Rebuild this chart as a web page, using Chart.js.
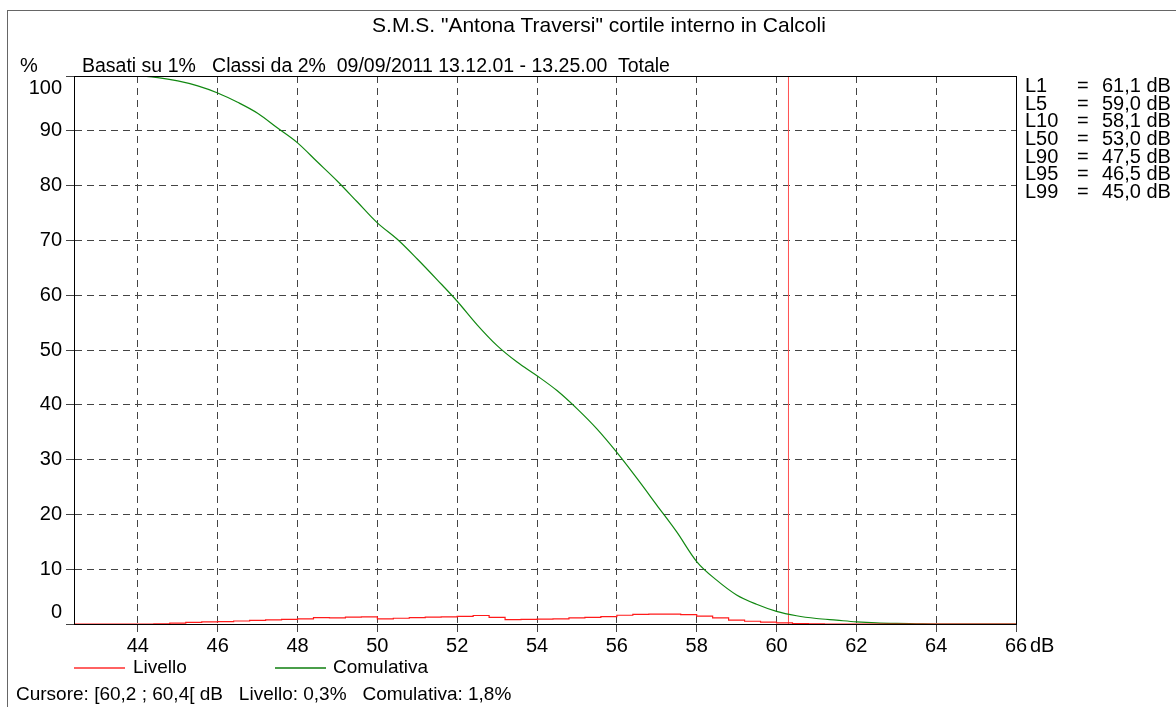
<!DOCTYPE html>
<html>
<head>
<meta charset="utf-8">
<script src="https://cdn.jsdelivr.net/npm/chart.js@4"></script>
<style>
body{margin:0;background:#fff;font-family:"Liberation Sans",Arial,sans-serif;color:#000}
#wrap{position:relative;width:1176px;height:707px;overflow:hidden}
#c{position:absolute;left:0;top:0}
.t{position:absolute;font-size:19px;line-height:20px;white-space:pre}
#frame{position:absolute;left:7px;top:10px;width:1300px;height:900px;border-left:1px solid #666;border-top:1px solid #666}
.stats{position:absolute;left:1025px;top:77px;font-size:20px;line-height:17.7px}
.stats div{position:relative;height:17.7px;white-space:pre}
.stats span{position:absolute}
.leg{position:absolute;height:0;border-top:2px solid}
</style>
</head>
<body>
<div id="wrap">
<div id="frame"></div>
<canvas id="c" width="1176" height="707"></canvas>
<div class="t" style="left:0;width:1198px;text-align:center;top:14px;font-size:21px;line-height:22px">S.M.S. "Antona Traversi" cortile interno in Calcoli</div>
<div class="t" style="left:20px;top:55px;font-size:20px">%</div>
<div class="t" style="left:82px;top:55px;font-size:19.5px">Basati su 1%   Classi da 2%  09/09/2011 13.12.01 - 13.25.00  Totale</div>
<div class="stats" id="stats"></div>
<div class="t" style="left:1030px;top:635px;font-size:20px">dB</div>
<div class="leg" style="left:74px;top:667px;width:51px;border-color:#ff6262"></div>
<div class="t" style="left:133px;top:657px">Livello</div>
<div class="leg" style="left:275px;top:667px;width:51px;border-color:#4a9e4a"></div>
<div class="t" style="left:333px;top:657px">Comulativa</div>
<div class="t" style="left:16px;top:684px">Cursore: [60,2 ; 60,4[ dB   Livello: 0,3%   Comulativa: 1,8%</div>
</div>
<script>
// values
const statNames=['L1','L5','L10','L50','L90','L95','L99']
const statValues=['61,1 dB','59,0 dB','58,1 dB','53,0 dB','47,5 dB','46,5 dB','45,0 dB']

const cumDb=[42.4,43,43.5,44,44.5,45,45.5,46,46.5,47,47.5,48,48.5,49,49.5,50,50.5,51,51.5,52,52.5,53,53.5,54,54.5,55,55.5,56,56.5,57,57.5,58,58.5,59,59.5,60,60.5,61,61.5,62,62.5,63,63.5,64,66]
const comulativa=[100,100,100,100,99.7,99.1,98.2,96.9,95.2,93.2,90.5,87.8,84.3,80.8,77.0,73.2,70.2,66.6,62.8,58.9,54.6,50.8,47.8,45.3,42.6,39.3,35.6,31.3,26.6,21.7,16.8,11.4,8.0,5.3,3.6,2.3,1.5,1.0,0.7,0.4,0.2,0.1,0.05,0,0]

const levelDb=[42.4,42.8,43.2,43.6,44.0,44.4,44.8,45.2,45.6,46.0,46.4,46.8,47.2,47.6,48.0,48.4,48.8,49.2,49.6,50.0,50.4,50.8,51.2,51.6,52.0,52.4,52.8,53.2,53.6,54.0,54.4,54.8,55.2,55.6,56.0,56.4,56.8,57.2,57.6,58.0,58.4,58.8,59.2,59.6,60.0,60.4,60.8,61.2,66]
const livello=[0,0,0,0,0,0.02,0.15,0.3,0.4,0.45,0.55,0.65,0.75,0.85,0.95,1.15,1.1,1.25,1.3,0.95,1.05,1.15,1.25,1.3,1.4,1.55,1.2,0.8,0.85,0.9,0.95,1.1,1.2,1.35,1.6,1.75,1.8,1.8,1.7,1.45,1.1,0.7,0.5,0.35,0.2,0.08,0.03,0,0]

const cursorDb=60.3
const xTicks=[44,46,48,50,52,54,56,58,60,62,64,66]
const yTicks=[0,10,20,30,40,50,60,70,80,90,100]

document.getElementById('stats').innerHTML=statNames.map((n,i)=>
  `<div><span style="left:0">${n}</span><span style="left:52px">=</span><span style="left:77px">${statValues[i]}</span></div>`).join('')

// solid box around the plot area
const frameBox={
  id:'frameBox',
  afterDatasetsDraw(chart){
    const a=chart.chartArea, ctx=chart.ctx
    ctx.save()
    ctx.strokeStyle='#000'
    ctx.lineWidth=1
    ctx.strokeRect(Math.round(a.left)+0.5,Math.round(a.top)+0.5,Math.round(a.right-a.left),Math.round(a.bottom-a.top))
    ctx.restore()
  }
}

const gridDash={display:true,color:'#000',width:1,dash:[7,5]}
const tickFont={family:'"Liberation Sans", Arial',size:20}

new Chart(document.getElementById('c'),{
  type:'line',
  data:{
    datasets:[
      {label:'Livello',data:levelDb.map((x,i)=>({x,y:livello[i]})),borderColor:'#ff1a1a',borderWidth:1.2,pointRadius:0,stepped:true,fill:false},
      {label:'Comulativa',data:cumDb.map((x,i)=>({x,y:comulativa[i]})),borderColor:'#118811',borderWidth:1.2,pointRadius:0,cubicInterpolationMode:'monotone',fill:false},
      {label:'cursor',data:[{x:cursorDb,y:0},{x:cursorDb,y:100}],borderColor:'#ff5050',borderWidth:1,pointRadius:0}
    ]
  },
  options:{
    responsive:false,
    animation:false,
    devicePixelRatio:1,
    layout:{padding:{left:0,top:76,right:160,bottom:0}},
    plugins:{legend:{display:false},tooltip:{enabled:false},title:{display:false}},
    scales:{
      x:{
        type:'linear',min:42.4,max:66,
        afterFit(s){s.height=83},
        afterBuildTicks(s){s.ticks=xTicks.map(v=>({value:v}))},
        ticks:{color:'#000',font:tickFont,padding:2,maxRotation:0,autoSkip:false},
        grid:{color:'#444',tickColor:'#444',tickLength:8,tickBorderDash:[7,5]},
        border:gridDash
      },
      y:{
        min:0,max:100,
        afterFit(s){s.width=74},
        afterBuildTicks(s){s.ticks=yTicks.map(v=>({value:v}))},
        ticks:{
          color:'#000',font:tickFont,padding:4,autoSkip:false,
          callback(v){
            if(v===100) return ['','100']
            if(v===0) return ['0','']
            return String(v)
          }
        },
        grid:{color:'#444',tickColor:'#444',tickLength:8},
        border:gridDash
      }
    }
  },
  plugins:[frameBox]
})
</script>
</body>
</html>
